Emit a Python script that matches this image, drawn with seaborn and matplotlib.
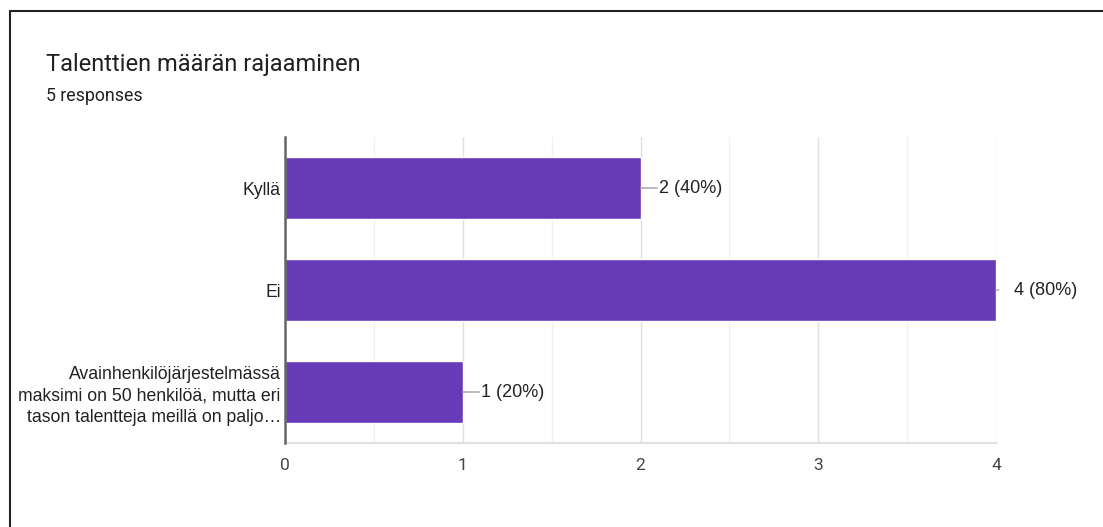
import matplotlib
matplotlib.use("Agg")
import matplotlib.pyplot as plt
import seaborn as sns
import pandas as pd
from matplotlib.lines import Line2D
from matplotlib.ticker import MultipleLocator

categories = ["Kyllä", "Ei",
              "Avainhenkilöjärjestelmässä\nmaksimi on 50 henkilöä, mutta eri\ntason talentteja meillä on paljo…"]
counts = [2, 4, 1]
percents = ["40%", "80%", "20%"]
title = "Talenttien määrän rajaaminen"
subtitle = "5 responses"
xticks = [0, 1, 2, 3, 4]

df = pd.DataFrame({"category": categories, "count": counts})

sns.set_style("white")
plt.rcParams["font.family"] = ["Liberation Sans", "DejaVu Sans"]

fig = plt.figure(figsize=(11.03, 5.27), dpi=100)
ax = fig.add_axes([0.2584, 0.1594, 0.6446, 0.5806])

sns.barplot(data=df, y="category", x="count", orient="h", color="#673ab7",
            saturation=1, width=0.61, ax=ax, zorder=3)

ax.set_xlim(0, 4)
ax.set_ylim(2.5, -0.5)
ax.set_xticks(xticks)
ax.xaxis.set_minor_locator(MultipleLocator(0.5))
ax.grid(True, which="major", axis="x", color="#e0e0e0", linewidth=1, zorder=0)
ax.grid(True, which="minor", axis="x", color="#f0f0f0", linewidth=1, zorder=0)
ax.set_xlabel("")
ax.set_ylabel("")
ax.tick_params(axis="x", which="both", length=0, labelsize=12.5, labelcolor="#444444", pad=11)
ax.tick_params(axis="y", length=0, labelsize=12.7, labelcolor="#222222", pad=3)
for lbl in ax.get_xticklabels():
    lbl.set_family(["Roboto", "DejaVu Sans"])
for lbl in ax.get_yticklabels():
    lbl.set_horizontalalignment("right")
    lbl.set_multialignment("right")
    lbl.set_linespacing(1.33)

for s in ["top", "right"]:
    ax.spines[s].set_visible(False)
ax.spines["bottom"].set_color("#e0e0e0")
ax.spines["bottom"].set_linewidth(1.5)
ax.spines["left"].set_color("#666666")
ax.spines["left"].set_linewidth(1.8)
ax.spines["left"].set_zorder(5)

xmax = ax.get_xlim()[1]
for i, (c, p) in enumerate(zip(counts, percents)):
    if c < xmax:
        line_len, text_off = 12, 13
    else:
        line_len, text_off = 2, 13
    ax.annotate("", xy=(c, i), xytext=(line_len, 0), textcoords="offset points",
                arrowprops=dict(arrowstyle="-", color="#9e9e9e", lw=1,
                                shrinkA=0, shrinkB=0), annotation_clip=False)
    ax.annotate(f"{c} ({p})", xy=(c, i), xytext=(text_off, 0), textcoords="offset points",
                va="center", ha="left", fontsize=13, color="#222222",
                annotation_clip=False)

fig.text(46 / 1103, 1 - 64 / 527, title, fontsize=17, color="#202124",
         family=["Roboto", "DejaVu Sans"], va="center", ha="left")
fig.text(46 / 1103, 1 - 96 / 527, subtitle, fontsize=12.8, color="#202124",
         family=["Roboto", "DejaVu Sans"], va="center", ha="left")

# outer frame (top and left edges)
fig.add_artist(Line2D([9.5 / 1103, 1], [1 - 10.5 / 527, 1 - 10.5 / 527],
                      transform=fig.transFigure, color="#222222", lw=1.5))
fig.add_artist(Line2D([9.5 / 1103, 9.5 / 1103], [0, 1 - 10.5 / 527],
                      transform=fig.transFigure, color="#222222", lw=1.5))

fig.savefig("out.png", dpi=100, facecolor="white")
